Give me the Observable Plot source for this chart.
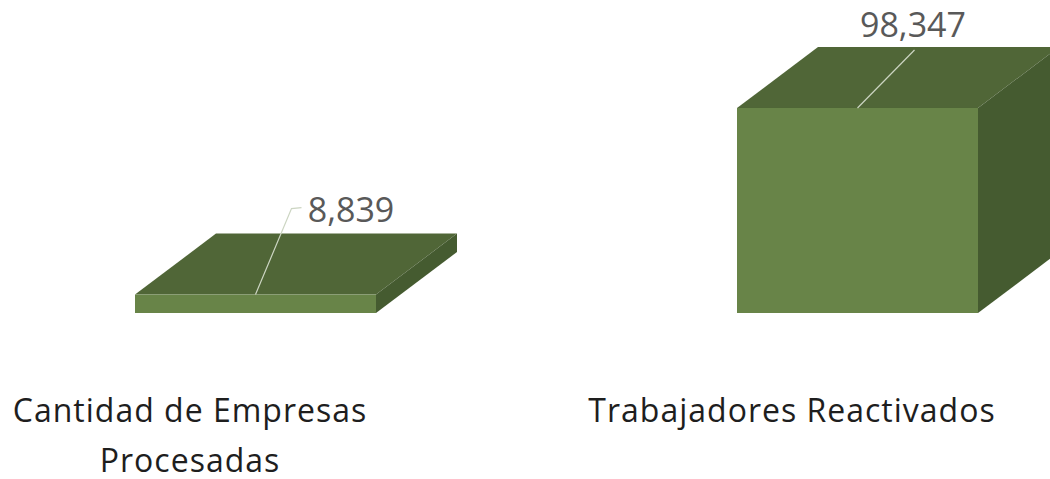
<!DOCTYPE html>
<html><head><meta charset="utf-8">
<script src="https://cdn.jsdelivr.net/npm/d3@7"></script>
<script src="https://cdn.jsdelivr.net/npm/@observablehq/plot@0.6"></script>
<style>
body{margin:0;background:#fff}
#chart svg{font-family:"Open Sans",sans-serif;background:#fff}
</style>
</head><body><div id="chart"></div>
<script>
// ---- data ----
const categories = ["Cantidad de Empresas Procesadas", "Trabajadores Reactivados"];
const values = [8839, 98347];
const valueLabels = ["8,839", "98,347"];
const categoryLines = [["Cantidad de Empresas", "Procesadas"], ["Trabajadores Reactivados"]];

const data = categories.map((c, i) => ({category: c, value: values[i], label: valueLabels[i], lines: categoryLines[i]}));

// ---- style ----
const DX = 81, DY = -61;                  // 3-D depth offset (px)
const COLORS = {front: "#688448", top: "#506637", side: "#455b30", leader: "#ccd5c2", value: "#595959", category: "#1e1e1e"};
const LABEL_STYLE = [
  {dx: 95.5, dy: -72.5, leader: [[0, 0], [36, -86], [46, -87]]},
  {dx: 55.5, dy: -71, leader: [[0, 0], [57, -58]]}
];

function boxes(index, scales) {
  const g = d3.create("svg:g");
  const bw = typeof scales.x.bandwidth === "function" ? scales.x.bandwidth() : 240;
  data.forEach((d, i) => {
    const x0 = scales.x(d.category), x1 = x0 + bw;
    const yb = scales.y(0), yt = scales.y(d.value);
    g.append("polygon")
      .attr("points", [[x0, yt], [x1, yt], [x1 + DX, yt + DY], [x0 + DX, yt + DY]].map(p => p.join(",")).join(" "))
      .attr("fill", COLORS.top);
    g.append("polygon")
      .attr("points", [[x1, yt], [x1 + DX, yt + DY], [x1 + DX, yb + DY], [x1, yb]].map(p => p.join(",")).join(" "))
      .attr("fill", COLORS.side);
  });
  return g.node();
}

function valueLabelsMark(index, scales) {
  const g = d3.create("svg:g");
  const bw = typeof scales.x.bandwidth === "function" ? scales.x.bandwidth() : 240;
  data.forEach((d, i) => {
    const cx = scales.x(d.category) + bw / 2, yt = scales.y(d.value);
    const s = LABEL_STYLE[i];
    g.append("polyline")
      .attr("points", s.leader.map(([a, b]) => `${cx + a},${yt + b}`).join(" "))
      .attr("fill", "none").attr("stroke", COLORS.leader).attr("stroke-width", 1.2);
    g.append("text")
      .attr("x", cx + s.dx).attr("y", yt + s.dy)
      .attr("text-anchor", "middle")
      .attr("font-size", 34)
      .attr("fill", COLORS.value)
      .text(d.label);
  });
  return g.node();
}

const chart = Plot.plot({
  width: 1050,
  height: 479,
  margin: 0,
  style: {background: "#fff", overflow: "visible"},
  x: {domain: categories, range: [135, 978], paddingInner: 0.6, paddingOuter: 0, axis: null},
  y: {domain: [0, 100000], range: [313, 313 - 208.45], axis: null},
  marks: [
    boxes,
    Plot.barY(data, {x: "category", y: "value", fill: COLORS.front}),
    valueLabelsMark,
    Plot.text(data, {
      x: "category", y: () => 0,
      text: d => d.lines.join("\n"),
      dx: -66, dy: 73,
      lineAnchor: "top", lineHeight: 1.56,
      fontSize: 32, fill: COLORS.category, textAnchor: "middle"
    })
  ]
});
chart.querySelectorAll("text").forEach(t => { if (t.textContent.match(/[A-Za-z]/)) t.style.letterSpacing = "1px"; });
document.getElementById("chart").appendChild(chart);
</script>
</body></html>
